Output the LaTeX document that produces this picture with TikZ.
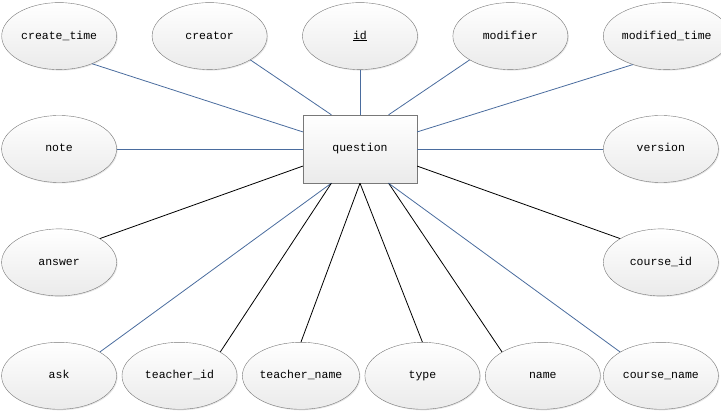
\documentclass[tikz,border=0pt]{standalone}
\usepackage{fontspec}
\setmonofont{Liberation Mono}
\usepackage{tikz}
\usetikzlibrary{shapes,positioning,shadows,calc}
\definecolor{linkblue}{RGB}{74,108,158}
\definecolor{rimgray}{RGB}{120,120,120}

\begin{document}
\begin{tikzpicture}[font=\ttfamily\fontsize{11.5}{13}\selectfont]
\tikzstyle{entity}=[draw=rimgray, shape=rectangle, minimum height=68pt, minimum width=114pt, text height=8pt, text depth=2pt, top color=white, bottom color=black!8, drop shadow={opacity=0.3, shadow xshift=1.5pt, shadow yshift=-1.5pt}]
\tikzstyle{attribute}=[draw=rimgray, shape=ellipse, minimum height=67pt, minimum width=115pt, inner sep=0pt, text height=8pt, text depth=2pt, top color=white, bottom color=black!8, drop shadow={opacity=0.2, shadow xshift=1pt, shadow yshift=-1pt}]
\tikzstyle{bluelink}=[draw=linkblue, line width=0.8pt]
\tikzstyle{blacklink}=[draw=black, line width=0.8pt]
\useasboundingbox (-360pt,149pt) rectangle (361pt,-263pt);
\node[entity] (question) at (0,0) {question};
% top row
\node[attribute] (id) [above=45pt of question] {\underline{id}};
\node[attribute] (creator) [left=35pt of id] {creator};
\node[attribute] (createtime) [left=35pt of creator] {create\_time};
\node[attribute] (modifier) [right=35pt of id] {modifier};
\node[attribute] (modifiedtime) [right=35pt of modifier] {modified\_time};
% side columns
\node[attribute] (note) [left=186pt of question] {note};
\node[attribute] (answer) [below=46pt of note] {answer};
\node[attribute] (ask) [below=46pt of answer] {ask};
\node[attribute] (version) [right=186pt of question] {version};
\node[attribute] (courseid) [below=46pt of version] {course\_id};
\node[attribute] (coursename) [below=46pt of courseid] {course\_name};
% bottom row
\node[attribute] (teacherid) [right=5pt of ask] {teacher\_id};
\node[attribute] (teachername) [right=5pt of teacherid] {teacher\_name};
\node[attribute] (type) [right=5pt of teachername] {type};
\node[attribute] (name) [right=5pt of type] {name};

\coordinate (t1) at ($(question.north west)!.25!(question.north east)$);
\coordinate (t3) at ($(question.north west)!.75!(question.north east)$);
\coordinate (b1) at ($(question.south west)!.25!(question.south east)$);
\coordinate (b3) at ($(question.south west)!.75!(question.south east)$);
\coordinate (l1) at ($(question.north west)!.25!(question.south west)$);
\coordinate (l3) at ($(question.north west)!.75!(question.south west)$);
\coordinate (r1) at ($(question.north east)!.25!(question.south east)$);
\coordinate (r3) at ($(question.north east)!.75!(question.south east)$);

\draw[bluelink] (createtime.-40) to (l1);
\draw[bluelink] (creator.south east) to (t1);
\draw[bluelink] (id.south) to (question.north);
\draw[bluelink] (modifier.south west) to (t3);
\draw[bluelink] (modifiedtime.-140) to (r1);
\draw[bluelink] (note.east) to (question.west);
\draw[bluelink] (version.west) to (question.east);
\draw[blacklink] (answer.north east) to (l3);
\draw[blacklink] (courseid.north west) to (r3);
\draw[bluelink] (ask.north east) to (b1);
\draw[blacklink] (teacherid.north east) to (b1);
\draw[blacklink] (teachername.north) to (question.south);
\draw[blacklink] (type.north) to (question.south);
\draw[blacklink] (name.north west) to (b3);
\draw[bluelink] (coursename.north west) to (b3);

\end{tikzpicture}
\end{document}
